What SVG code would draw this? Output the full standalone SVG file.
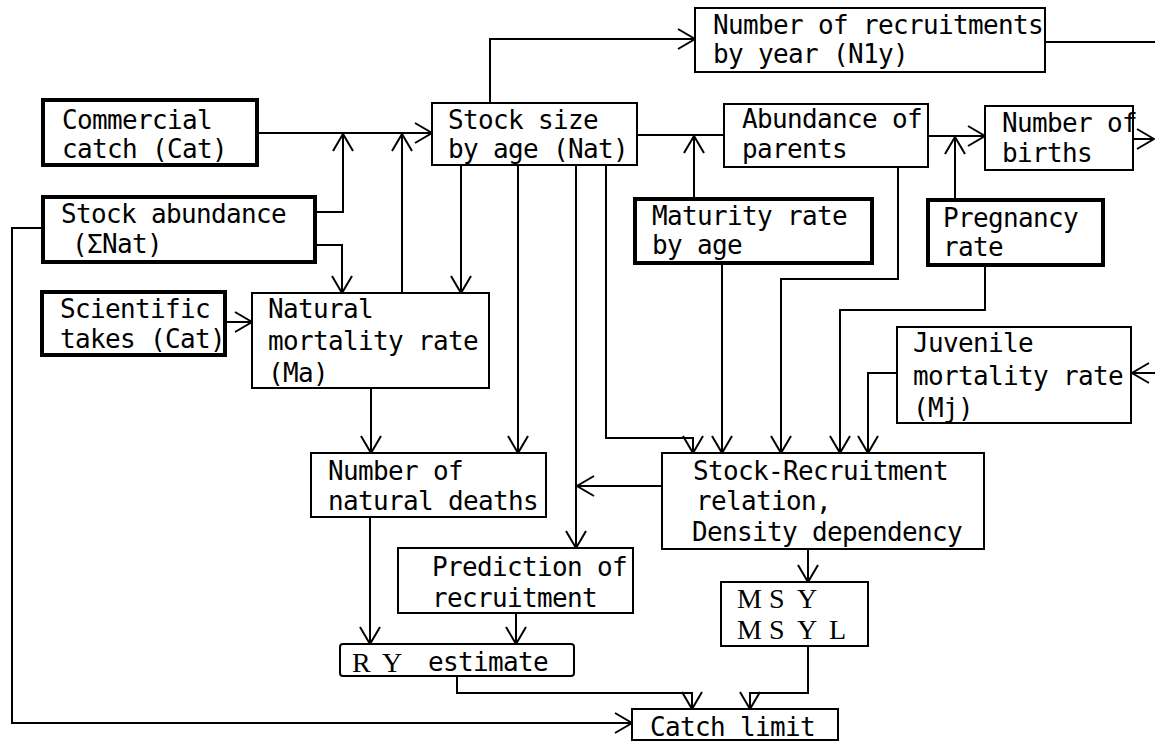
<svg xmlns="http://www.w3.org/2000/svg" width="1155" height="742" viewBox="0 0 1155 742">
<style>
.b{fill:#fff;stroke:#000;stroke-width:2}
.k{fill:#fff;stroke:#000;stroke-width:4}
.t{font-family:"DejaVu Sans Mono","Liberation Mono",monospace;font-size:26px;letter-spacing:-0.65px;fill:#000}
.s{font-family:"Liberation Serif","DejaVu Serif",serif;font-size:28px;fill:#000}
.c path{fill:none;stroke:#000;stroke-width:2}
.a{marker-end:url(#ah)}
</style>
<defs>
<marker id="ah" markerUnits="userSpaceOnUse" markerWidth="26" markerHeight="26" viewBox="-22 -13 26 26" refX="0" refY="0" orient="auto">
<path d="M-17,-10 L0,0 L-17,10" fill="none" stroke="#000" stroke-width="2"/>
</marker>
</defs>
<rect width="1155" height="742" fill="#fff"/>
<g class="c" id="connectors">
<path class="a" d="M257,133 H432"/>
<path class="a" d="M315,212 H343 V134"/>
<path class="a" d="M315,245 H342 V293"/>
<path class="a" d="M402,293 V134"/>
<path class="a" d="M490,103 V39 H695"/>
<path d="M1045,42 H1155"/>
<path d="M637,135 H724"/>
<path class="a" d="M694,199 V136"/>
<path class="a" d="M928,136 H985"/>
<path class="a" d="M955,200 V137"/>
<path class="a" d="M1133,139 H1154"/>
<path class="a" d="M1155,373 H1132"/>
<path class="a" d="M461,165 V293"/>
<path class="a" d="M518,165 V453"/>
<path class="a" d="M576,165 V548"/>
<path class="a" d="M606,165 V438 H693 V453"/>
<path class="a" d="M722,263 V453"/>
<path class="a" d="M898,167 V279 H781 V453"/>
<path class="a" d="M985,265 V310 H840 V453"/>
<path class="a" d="M897,373 H868 V453"/>
<path class="a" d="M225,322 H252"/>
<path class="a" d="M371,388 V453"/>
<path class="a" d="M370,517 V644"/>
<path class="a" d="M662,486 H577"/>
<path class="a" d="M516,613 V644"/>
<path class="a" d="M808,549 V582"/>
<path class="a" d="M808,646 V693 H750 V709"/>
<path class="a" d="M457,676 V693 H692 V709"/>
<path class="a" d="M43,228 H12 V723 H632"/>
</g>
<g id="commercial"><rect class="k" x="43" y="100" width="214" height="65"/><text class="t" x="62" y="129">Commercial</text><text class="t" x="62" y="158">catch (Cat)</text></g>
<g id="abundance"><rect class="k" x="43" y="197" width="272" height="65"/><text class="t" x="61" y="223">Stock abundance</text><text class="t" x="72" y="253">(ΣNat)</text></g>
<g id="scientific"><rect class="k" x="42" y="292" width="183" height="63"/><text class="t" x="60" y="318">Scientific</text><text class="t" x="60" y="348">takes (Cat)</text></g>
<g id="natmort"><rect class="b" x="252" y="293" width="237" height="95"/><text class="t" x="268" y="318">Natural</text><text class="t" x="268" y="350">mortality rate</text><text class="t" x="268" y="382">(Ma)</text></g>
<g id="deaths"><rect class="b" x="311" y="453" width="235" height="64"/><text class="t" x="328" y="480">Number of</text><text class="t" x="328" y="510">natural deaths</text></g>
<g id="stocksize"><rect class="b" x="432" y="103" width="205" height="62"/><text class="t" x="448" y="129">Stock size</text><text class="t" x="448" y="158">by age (Nat)</text></g>
<g id="recruitments"><rect class="b" x="695" y="8" width="350" height="64"/><text class="t" x="713" y="34">Number of recruitments</text><text class="t" x="713" y="63">by year (N1y)</text></g>
<g id="parents"><rect class="b" x="724" y="104" width="204" height="63"/><text class="t" x="742" y="128">Abundance of</text><text class="t" x="742" y="158">parents</text></g>
<g id="births"><rect class="b" x="985" y="106" width="148" height="64"/><text class="t" x="1002" y="132">Number of</text><text class="t" x="1002" y="162">births</text></g>
<g id="maturity"><rect class="k" x="635" y="199" width="237" height="64"/><text class="t" x="652" y="225">Maturity rate</text><text class="t" x="652" y="254">by age</text></g>
<g id="pregnancy"><rect class="k" x="928" y="200" width="175" height="65"/><text class="t" x="943" y="227">Pregnancy</text><text class="t" x="943" y="256">rate</text></g>
<g id="juvenile"><rect class="b" x="897" y="327" width="234" height="96"/><text class="t" x="913" y="352">Juvenile</text><text class="t" x="913" y="385">mortality rate</text><text class="t" x="913" y="417">(Mj)</text></g>
<g id="stockrec"><rect class="b" x="662" y="453" width="322" height="96"/><text class="t" x="693" y="480">Stock-Recruitment</text><text class="t" x="696" y="510">relation,</text><text class="t" x="692" y="541">Density dependency</text></g>
<g id="prediction"><rect class="b" x="398" y="548" width="235" height="65"/><text class="t" x="432" y="576">Prediction of</text><text class="t" x="432" y="607">recruitment</text></g>
<g id="msy"><rect class="b" x="721" y="582" width="147" height="64"/><text class="s" x="737 769 797" y="608">MSY</text><text class="s" x="737 769 797 829" y="639">MSYL</text></g>
<g id="ry"><rect class="b" x="340" y="644" width="234" height="32" rx="3"/><text class="s" x="352 382" y="672">RY</text><text class="t" x="428" y="671">estimate</text></g>
<g id="catchlimit"><rect class="b" x="632" y="709" width="206" height="31"/><text class="t" x="650" y="736">Catch limit</text></g>
</svg>
